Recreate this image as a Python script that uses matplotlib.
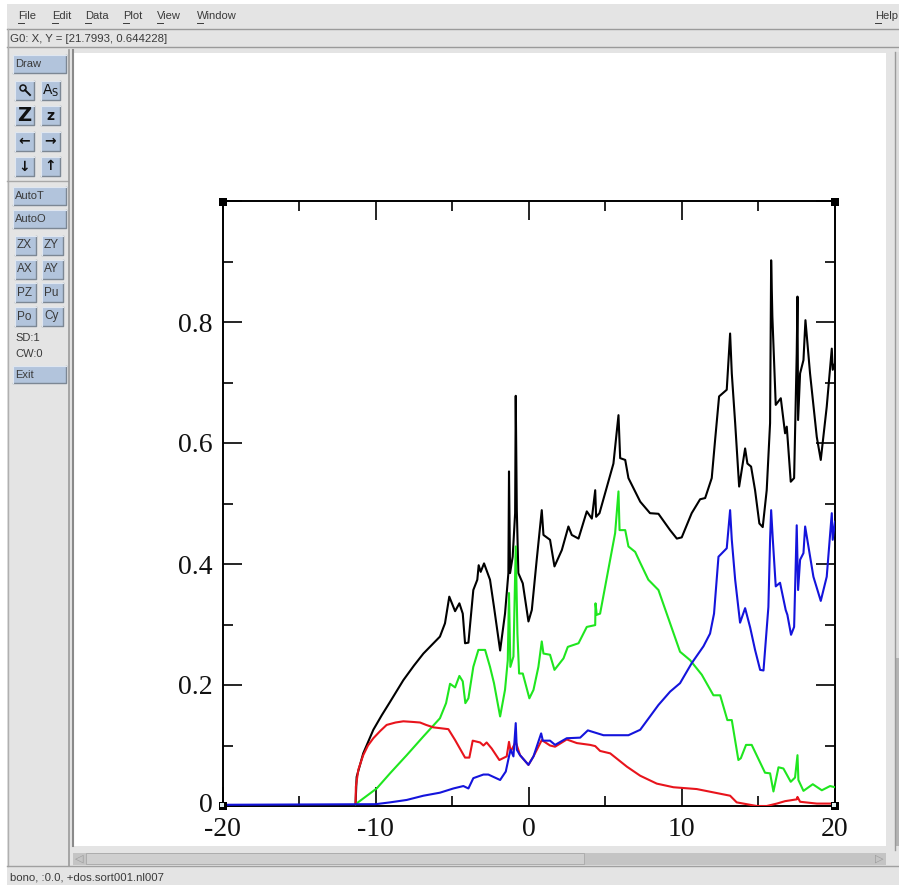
import matplotlib
matplotlib.use('Agg')
import matplotlib.pyplot as plt
from matplotlib.patches import Rectangle, Circle
from matplotlib.transforms import ScaledTranslation

# density of states curves
black_x = [-11.31, -11.24, -10.81, -10.15, -9.60, -9.06, -8.19, -7.50, -6.88, -5.80, -5.47, -5.19, -4.81, -4.53, -4.31, -4.16, -3.94,
           -3.62, -3.36, -3.27, -3.14, -2.92, -2.53, -2.27, -1.87, -1.55, -1.33, -1.29, -1.22, -1.05, -0.89, -0.85,
           -0.78, -0.68, -0.39, -0.02, 0.20, 0.52, 0.85, 0.96, 1.39, 1.68, 2.16, 2.59, 2.81, 3.25, 3.79, 4.12, 4.34,
           4.40, 4.62, 5.53, 5.86, 5.97, 6.30, 6.51, 7.28, 7.92, 8.47, 9.23, 9.67, 9.99, 10.64, 11.19, 11.52, 11.95,
           12.17, 12.43, 12.93, 13.15, 13.26, 13.48, 13.74, 14.13, 14.28, 14.52, 14.78, 15.06, 15.28, 15.54, 15.76,
           15.83, 15.91, 16.13, 16.46, 16.74, 16.85, 17.11, 17.33, 17.50, 17.55, 17.59, 17.72, 17.94, 18.07, 18.37,
           18.81, 19.07, 19.46, 19.79, 19.85, 20.0]
black_y = [0.004, 0.048, 0.087, 0.126, 0.150, 0.172, 0.208, 0.232, 0.252, 0.280, 0.302, 0.346, 0.322, 0.335, 0.318, 0.269, 0.270,
           0.357, 0.374, 0.398, 0.387, 0.401, 0.374, 0.329, 0.257, 0.318, 0.385, 0.553, 0.385, 0.412, 0.484, 0.678,
           0.489, 0.385, 0.368, 0.305, 0.324, 0.407, 0.489, 0.448, 0.440, 0.396, 0.423, 0.462, 0.448, 0.442, 0.487,
           0.475, 0.522, 0.478, 0.484, 0.566, 0.646, 0.575, 0.572, 0.542, 0.503, 0.484, 0.483, 0.456, 0.442, 0.444,
           0.484, 0.507, 0.509, 0.542, 0.605, 0.677, 0.688, 0.781, 0.715, 0.633, 0.528, 0.591, 0.566, 0.561, 0.522,
           0.467, 0.461, 0.522, 0.633, 0.902, 0.809, 0.663, 0.674, 0.616, 0.627, 0.536, 0.542, 0.748, 0.842, 0.638,
           0.715, 0.737, 0.803, 0.715, 0.610, 0.572, 0.660, 0.756, 0.721, 0.732]

green_x = [-11.31, -9.93, -9.06, -7.97, -6.88, -5.80, -5.40, -5.14, -4.81, -4.53, -4.31, -4.14, -3.94, -3.62, -3.29,
           -2.85, -2.53, -2.27, -1.87, -1.55, -1.37, -1.29, -1.20, -1.00, -0.85, -0.74, -0.63, -0.39, 0.04, 0.31, 0.63,
           0.85, 0.96, 1.39, 1.68, 2.27, 2.55, 3.25, 3.79, 4.34, 4.36, 4.44, 4.66, 5.64, 5.86, 5.93, 6.30, 6.51, 6.95,
           7.28, 7.81, 8.47, 9.12, 9.88, 10.54, 11.30, 12.06, 12.50, 12.97, 13.26, 13.69, 13.85, 14.19, 14.56, 15.43,
           15.76, 15.98, 16.31, 16.63, 17.11, 17.39, 17.55, 17.61, 17.94, 18.55, 19.14, 19.68, 20.0]
green_y = [0.003, 0.029, 0.054, 0.084, 0.115, 0.145, 0.170, 0.202, 0.196, 0.215, 0.206, 0.170, 0.178, 0.230, 0.258,
           0.258, 0.230, 0.203, 0.148, 0.192, 0.241, 0.352, 0.230, 0.247, 0.429, 0.285, 0.219, 0.219, 0.178, 0.192,
           0.230, 0.272, 0.252, 0.250, 0.225, 0.244, 0.263, 0.269, 0.296, 0.299, 0.335, 0.316, 0.318, 0.451, 0.520,
           0.456, 0.456, 0.429, 0.420, 0.402, 0.374, 0.357, 0.310, 0.255, 0.241, 0.217, 0.183, 0.183, 0.142, 0.142,
           0.076, 0.079, 0.101, 0.101, 0.055, 0.054, 0.024, 0.064, 0.062, 0.040, 0.047, 0.084, 0.043, 0.025, 0.036,
           0.026, 0.033, 0.031]

blue_x = [-20.0, -10.0, -9.06, -7.97, -6.88, -5.80, -4.92, -4.27, -3.94, -3.62, -2.96, -2.64, -1.87, -1.50, -1.29,
          -1.18, -1.00, -0.85, -0.78, -0.57, -0.02, 0.31, 0.81, 0.92, 1.39, 1.72, 2.48, 3.36, 3.86, 4.88, 6.51, 7.28,
          8.47, 9.23, 9.88, 10.64, 11.41, 11.84, 12.10, 12.39, 12.93, 13.15, 13.26, 13.48, 13.80, 14.13, 14.46, 14.78,
          15.11, 15.33, 15.65, 15.76, 15.83, 15.94, 16.13, 16.41, 16.78, 16.89, 17.13, 17.33, 17.50, 17.59, 17.72,
          17.94, 18.05, 18.59, 19.07, 19.46, 19.79, 19.85, 20.0]
blue_y = [0.002, 0.003, 0.006, 0.010, 0.017, 0.022, 0.029, 0.033, 0.029, 0.046, 0.052, 0.052, 0.043, 0.057, 0.082,
          0.093, 0.082, 0.137, 0.093, 0.084, 0.068, 0.082, 0.120, 0.108, 0.108, 0.101, 0.112, 0.113, 0.125, 0.117,
          0.117, 0.126, 0.167, 0.189, 0.203, 0.236, 0.264, 0.285, 0.318, 0.412, 0.426, 0.489, 0.440, 0.374, 0.303,
          0.327, 0.295, 0.258, 0.225, 0.224, 0.329, 0.440, 0.489, 0.440, 0.363, 0.369, 0.324, 0.316, 0.283, 0.296,
          0.464, 0.357, 0.407, 0.418, 0.462, 0.379, 0.339, 0.379, 0.484, 0.440, 0.470]

red_x = [-11.31, -11.29, -11.13, -10.81, -10.50, -10.15, -9.70, -9.28, -8.70, -8.19, -7.60, -7.10, -6.70, -6.23, -5.25,
         -4.81, -4.16, -3.88, -3.66, -3.18, -2.96, -2.75, -2.42, -1.92, -1.44, -1.29, -1.18, -0.85, -0.57, -0.02, 0.31,
         0.85, 1.39, 1.72, 2.48, 3.14, 4.01, 4.34, 4.66, 5.32, 6.41, 7.28, 8.36, 9.45, 10.97, 13.15, 13.58, 14.89,
         15.54, 16.20, 16.74, 17.50, 17.55, 17.72, 18.81, 20.0]
red_y = [0.004, 0.032, 0.060, 0.084, 0.100, 0.112, 0.124, 0.134, 0.138, 0.140, 0.139, 0.138, 0.134, 0.130, 0.127,
         0.109, 0.080, 0.080, 0.108, 0.105, 0.100, 0.105, 0.095, 0.076, 0.082, 0.106, 0.090, 0.106, 0.084, 0.068, 0.082,
         0.109, 0.100, 0.098, 0.110, 0.104, 0.101, 0.099, 0.091, 0.087, 0.065, 0.050, 0.037, 0.031, 0.028, 0.017, 0.006,
         0.0, 0.0, 0.004, 0.008, 0.011, 0.015, 0.007, 0.004, 0.004]

x_ticks = [-20, -10, 0, 10, 20]
x_labels = ['-20', '-10', '0', '10', '20']
x_minor = [-15, -5, 5, 15]
y_ticks = [0, 0.2, 0.4, 0.6, 0.8, 1.0]
y_labels = ['0', '0.2', '0.4', '0.6', '0.8', '']
y_minor = [0.1, 0.3, 0.5, 0.7, 0.9]

menu_items = [('File', 18), ('Edit', 52), ('Data', 85), ('Plot', 123), ('View', 157), ('Window', 197), ('Help', 875)]
wide_buttons = [('Draw', 55, 73), ('AutoT', 187, 205), ('AutoO', 210, 228), ('Exit', 366, 383)]
icon_buttons = [('', 'A$_{\\mathrm{S}}$', 81), ('Z', 'z', 106), ('\u2190', '\u2192', 132), ('\u2193', '\u2191', 157)]
small_buttons = [('ZX', 'ZY', 236), ('AX', 'AY', 260), ('PZ', 'Pu', 283), ('Po', 'Cy', 307)]

W, H = 899, 885
fig = plt.figure(figsize=(W / 100, H / 100), dpi=100, facecolor='#e4e4e4')

# window around the graph, in pixels
gui = fig.add_axes([0, 0, 1, 1], zorder=0)
gui.set_xlim(0, W)
gui.set_ylim(H, 0)
gui.axis('off')
ui_font = 'Liberation Sans'
ui_col = '#3a3a3a'
btn_col = '#b2c4dc'


def box(x0, y0, x1, y1, fc, ec='none', lw=0, where=gui):
    where.add_patch(Rectangle((x0, y0), x1 - x0, y1 - y0, facecolor=fc, edgecolor=ec, linewidth=lw))


def button(x0, y0, x1, y1, label='', size=8, ha='left', **kw):
    box(x0, y0, x1, y1, btn_col)
    gui.plot([x0, x1, x1], [y1, y1, y0], color='#7c8794', lw=1)
    gui.plot([x0, x0, x1], [y1, y0, y0], color='#dfe6f0', lw=0.8)
    if ha == 'left':
        gui.text(x0 + 2, (y0 + y1) / 2, label, fontsize=size, family=ui_font, color=ui_col, va='center', **kw)
    else:
        gui.text((x0 + x1) / 2, (y0 + y1) / 2, label, fontsize=size, ha='center', va='center', color='#111111', **kw)


box(0, 0, W, 4, 'white')
box(0, 0, 7, H, 'white')
for name, x in menu_items:
    gui.text(x, 16, name, fontsize=8, family=ui_font, color=ui_col, va='center')
    gui.plot([x, x + 6], [23, 23], color=ui_col, lw=0.7)
gui.plot([7, W], [29, 29], color='#9a9a9a', lw=1)
gui.plot([7, W], [47, 47], color='#9a9a9a', lw=1)
gui.text(10, 39, 'G0: X, Y = [21.7993, 0.644228]', fontsize=8.2, family=ui_font, color=ui_col, va='center')

gui.plot([8, 8], [29, 866], color='#b0b0b0', lw=1)
gui.plot([7, 68], [181, 181], color='#a8a8a8', lw=1)
gui.plot([69, 69], [50, 866], color='#9a9a9a', lw=1.2)
gui.plot([73, 73], [50, 846], color='#8a8a8a', lw=1.5)

# drawing area and scrollbars
box(74, 53, 886, 846, 'white')
box(73, 853, 886, 865, '#c4c4c4')
box(86, 853, 584, 864, '#cfcfcf', ec='#a8a8a8', lw=0.6)
gui.plot([895, 895], [52, 850], color='#9a9a9a', lw=1)
box(896, 52, W, 658, '#dcdcdc')
box(896, 658, W, 846, '#b4b4b4')
gui.plot([7, W], [866, 866], color='#a0a0a0', lw=1)
gui.text(75, 859, '\u25c1', fontsize=8, color='#9a9a9a', ha='left', va='center')
gui.text(879, 859, '\u25b7', fontsize=8, color='#9a9a9a', ha='center', va='center')
gui.text(10, 877, 'bono, :0.0, +dos.sort001.nl007', fontsize=8.2, family=ui_font, color=ui_col, va='center')

for name, y0, y1 in wide_buttons:
    button(13, y0, 66, y1, name)
for left, right, y in icon_buttons:
    weight = 'bold' if left in ('\u2190', '\u2193', 'Z') else 'normal'
    button(15, y, 34, y + 19, left, size=14 if left == 'Z' else 10, ha='center', fontweight=weight)
    button(41, y, 60, y + 19, right, size=10, ha='center', fontweight=weight)
gui.add_patch(Circle((23, 88), 3, facecolor='none', edgecolor='#111111', linewidth=1.1))
gui.plot([25, 30], [90, 95], color='#111111', lw=1.4)
for left, right, y in small_buttons:
    button(15, y, 36, y + 19, left, size=8.5)
    button(42, y, 63, y + 19, right, size=8.5)
gui.text(15, 338, 'SD:1', fontsize=8, family=ui_font, color=ui_col, va='center')
gui.text(15, 354, 'CW:0', fontsize=8, family=ui_font, color=ui_col, va='center')

# the graph itself
ax = fig.add_axes([222.5 / W, (H - 806) / H, 612.5 / W, 605 / H], zorder=1)
ax.patch.set_alpha(0)
ax.plot(black_x, black_y, color='black', lw=1.5, zorder=3)
ax.plot(green_x, green_y, color='#1fe61f', lw=1.5, zorder=4)
ax.plot(red_x, red_y, color='#e8141c', lw=1.5, zorder=5)
ax.plot(blue_x, blue_y, color='#1414dc', lw=1.5, zorder=6)
ax.set_xlim(-20, 20)
ax.set_ylim(0, 1)
ax.set_xticks(x_ticks)
ax.set_xticklabels(x_labels)
ax.set_xticks(x_minor, minor=True)
ax.set_yticks(y_ticks)
ax.set_yticklabels(y_labels)
ax.set_yticks(y_minor, minor=True)
ax.tick_params(which='major', direction='in', length=13.5, width=1.2, top=True, right=True, labelsize=20)
ax.tick_params(axis='x', which='major', pad=8)
ax.tick_params(axis='y', which='major', pad=7)
ax.tick_params(which='minor', direction='in', length=7, width=1.2, top=True, right=True)
for lab in ax.get_xticklabels() + ax.get_yticklabels():
    lab.set_family('Liberation Serif')
    lab.set_color('#111111')
# the 0 sits a little above its tick, clear of the -20 below it
zero = ax.get_yticklabels()[0]
zero.set_transform(zero.get_transform() + ScaledTranslation(0, 0.04, fig.dpi_scale_trans))
for s in ax.spines.values():
    s.set_linewidth(1.4)

# selection handles on the corners of the graph
top = fig.add_axes([0, 0, 1, 1], zorder=2)
top.set_xlim(0, W)
top.set_ylim(H, 0)
top.axis('off')
for hx, hy in [(223, 202), (835, 202), (223, 806), (835, 806)]:
    box(hx - 4, hy - 4, hx + 4, hy + 4, 'black', where=top)
    if hy > 500:
        box(hx - 3, hy - 3, hx + 1, hy + 1, '#dfeeee', where=top)

fig.savefig('out.png', dpi=100, facecolor=fig.get_facecolor())
